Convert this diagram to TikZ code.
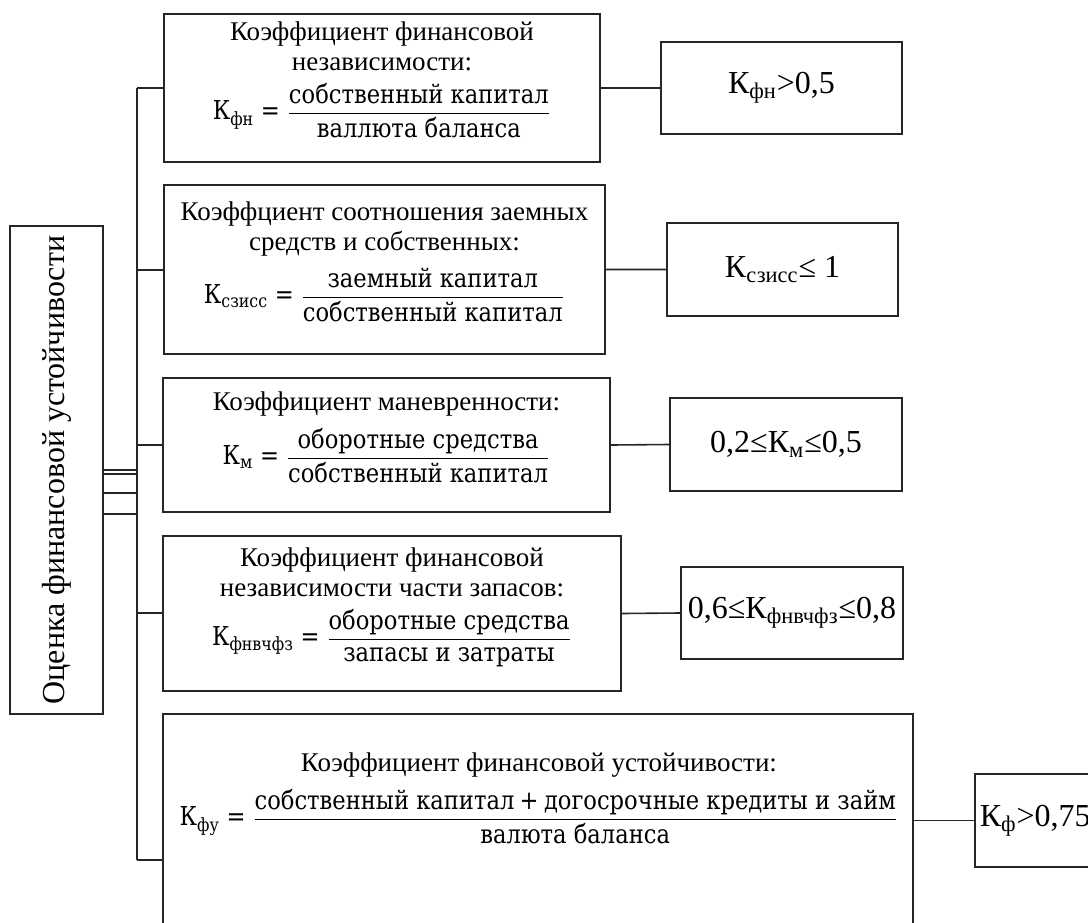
\documentclass[tikz,border=0pt]{standalone}
\usepackage{amsmath}
\usepackage{fontspec}
\setmainfont{Liberation Serif}
\newfontfamily\eqfont[FakeStretch=0.87]{DejaVu Serif}
\usetikzlibrary{positioning}

\newcommand{\koef}[1]{\text{К}_{\text{#1}}}
\newcommand{\eqsize}{\eqfont\fontsize{13}{15}\selectfont}
\newcommand{\eqsign}{\mathrel{\text{=}}}
\newcommand{\plussign}{\mathbin{\text{+}}}

\begin{document}
\begin{tikzpicture}[x=0.5pt, y=-0.5pt,
  box/.style={draw=black!85, line width=0.8pt, align=center, inner sep=0pt, font=\fontsize{13.5}{15}\selectfont},
  res/.style={draw=black!85, line width=0.8pt, inner sep=0pt, font=\fontsize{16}{18}\selectfont},
  link/.style={line width=0.8pt, black!85}]

\path[use as bounding box] (0,0) rectangle (1088,922);
\clip (0,0) rectangle (1088,922);

% Left box
\node[box, rotate=90, minimum width=244pt, minimum height=46.5pt, font=\fontsize{16}{18}\selectfont] (L) at (56.5,470) {Оценка финансовой устойчивости};

% Coefficient boxes
\node[box, minimum width=218pt, minimum height=74pt] (b1) at (382,88)
  {Коэффициент финансовой\\ независимости:\\[5pt] {\eqsize $\koef{фн}\eqsign\dfrac{\text{собственный капитал}}{\text{валлюта баланса}}$}\\[2pt]};
\node[box, minimum width=220.5pt, minimum height=84.5pt] (b2) at (384.5,269.5)
  {Коэффциент соотношения заемных\\ средств и собственных:\\[5pt] {\eqsize $\koef{сзисс}\eqsign\dfrac{\text{заемный капитал}}{\text{собственный капитал}}$}\\[2pt]};
\node[box, minimum width=223.5pt, minimum height=67pt] (b3) at (386.5,445)
  {Коэффициент маневренности:\\[5pt] {\eqsize $\koef{м}\eqsign\dfrac{\text{оборотные средства}}{\text{собственный капитал}}$}\\[2pt]};
\node[box, minimum width=229pt, minimum height=77.5pt] (b4) at (392,613.5)
  {Коэффициент финансовой\\ независимости части запасов:\\[5pt] {\eqsize $\koef{фнвчфз}\eqsign\dfrac{\text{оборотные средства}}{\text{запасы и затраты}}$}\\[2pt]};
\node[box, minimum width=375pt, minimum height=123pt] (b5) at (538,837) {};
\node[align=center, font=\fontsize{13.5}{15}\selectfont] (t5) at (539,798)
  {Коэффициент финансовой устойчивости:\\[5pt] {\eqsize $\koef{фу}\eqsign\dfrac{\text{собственный капитал}\plussign\text{догосрочные кредиты и займ}}{\text{валюта баланса}}$}};

% Norm boxes
\node[res, minimum width=120.5pt, minimum height=46pt] (r1) at (781.5,88) {К$_{\text{фн}}$>0,5};
\node[res, minimum width=115.5pt, minimum height=46.5pt] (r2) at (782.5,269.5) {К$_{\text{сзисс}}$≤ 1};
\node[res, minimum width=116pt, minimum height=46.5pt] (r3) at (786,444.5) {0,2≤К$_{\text{м}}$≤0,5};
\node[res, minimum width=111pt, minimum height=46pt] (r4) at (792,613) {0,6≤К$_{\text{фнвчфз}}$≤0,8};
\node[res, anchor=west, text width=62pt, inner xsep=2.5pt, align=left, minimum height=46.5pt] (r5) at (974,820.5) {К$_{\text{ф}}$>0,75};

% Bus
\coordinate (j1) at (137,88);
\coordinate (j2) at (137,270);
\coordinate (j3) at (137,445);
\coordinate (j4) at (137,613);
\coordinate (j5) at (137,860);
\draw[link] (j1) -- (j5);
\draw[link] (j1) -- (j1 -| b1.west) (j2) -- (j2 -| b2.west) (j3) -- (j3 -| b3.west);
\draw[link] (j4) -- (j4 -| b4.west) (j5) -- (j5 -| b5.west);

% Lines from the left box
\draw[link] (L.south) -- (L.south -| j1);
\foreach \yy in {474,493,514} {
  \coordinate (aux) at (0,\yy);
  \draw[link] (L.south |- aux) -- (j1 |- aux);
}

% Boxes to norms
\draw[link] (b1.east) -- (r1.west) (b2.east) -- (r2.west) (b3.east) -- (r3.west) (b4.east) -- (r4.west);
\draw[link] (r5.west) -- (r5.west -| b5.east);
\end{tikzpicture}
\end{document}
